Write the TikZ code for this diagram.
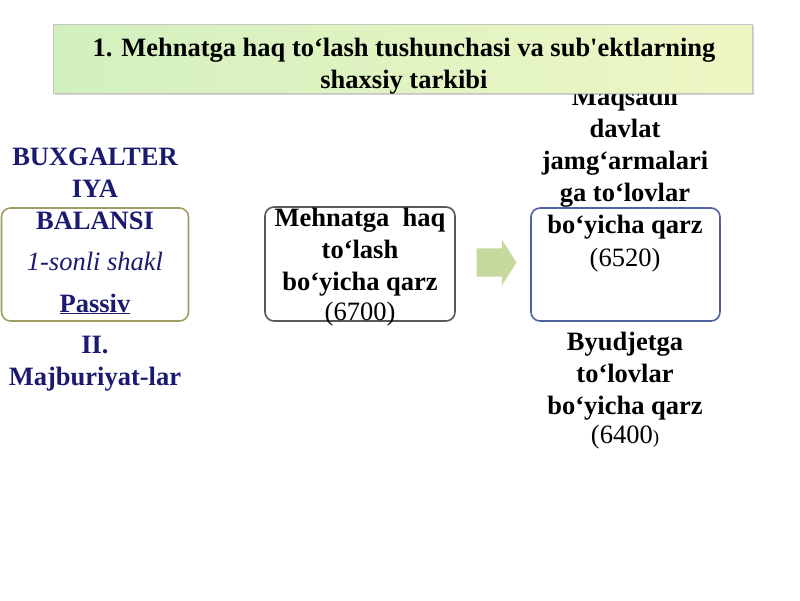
\documentclass[tikz,border=0pt]{standalone}
\usepackage{fontspec}
\setmainfont{Liberation Serif}
\usetikzlibrary{shapes.arrows,shadows}
\definecolor{navytext}{HTML}{1A1A70}
\definecolor{leftframe}{HTML}{A09C64}
\definecolor{midframe}{HTML}{58585E}
\definecolor{rightframe}{HTML}{5262A0}
\definecolor{arrowfill}{HTML}{C6D99C}
\definecolor{titleleft}{HTML}{D2F0BE}
\definecolor{titleright}{HTML}{EEF7C4}
\begin{document}
\begin{tikzpicture}[x=1pt,y=-1pt,
  boxframe/.style={draw,rounded corners=9pt,line width=1.6pt,inner sep=0pt},
  bodytext/.style={font=\fontsize{26.5}{32}\selectfont\bfseries,align=center,inner sep=0pt,anchor=base},
  plaintext/.style={font=\fontsize{26.5}{32}\selectfont,inner sep=0pt,anchor=base}]
\useasboundingbox (0,0) rectangle (800,600);
\fill[white] (0,0) rectangle (800,600);

% left side: balance sheet
\node[boxframe,draw=leftframe,minimum width=187pt,minimum height=113pt] (balbox) at (95,264.5) {};
\node[bodytext,text=navytext] (baltitle) at (95,229) {BUXGALTER\\IYA\\BALANSI};
\node[plaintext,text=navytext,font=\fontsize{26.5}{32}\selectfont\itshape] (balform) at (95,270) {1-sonli shakl};
\node[bodytext,text=navytext] (balside) at (95,312) {\underline{Passiv}};
\node[bodytext,text=navytext] (balsection) at (95,385) {II.\\Majburiyat-lar};

% middle
\node[boxframe,draw=midframe,minimum width=190pt,minimum height=114pt] (wagebox) at (360,264) {};
\node[bodytext] (wagetext) at (360,290) {Mehnatga\ \ haq\\to‘lash\\bo‘yicha qarz};
\node[plaintext] (wagecode) at (360,320) {(6700)};

\node[single arrow,fill=arrowfill,minimum height=40pt,text height=14pt,text depth=14pt,
  single arrow head extend=9pt,single arrow tip angle=115,inner sep=0pt] (flow) at (492,262.5) {};

% right side
\node[boxframe,draw=rightframe,minimum width=189pt,minimum height=113pt] (fundbox) at (625.5,264.5) {};
\node[bodytext] (fundtext) at (625,233) {Maqsadli\\davlat\\jamg‘armalari\\ga to‘lovlar\\bo‘yicha qarz};
\node[plaintext] (fundcode) at (625,266) {(6520)};
\node[bodytext] (budgettext) at (625,414) {Byudjetga\\to‘lovlar\\bo‘yicha qarz};
\node[plaintext] (budgetcode) at (625,443) {(6400{\fontsize{19}{20}\selectfont)}};

% title
\node[draw=gray!45,left color=titleleft,right color=titleright,drop shadow={opacity=0.35},
  minimum width=699pt,minimum height=69pt,inner sep=0pt] (titlebox) at (402.5,58.5) {};
\node[bodytext] (titletext) at (404,88) {1. Mehnatga haq to‘lash tushunchasi va sub\textquotesingle ektlarning\\shaxsiy tarkibi};
\end{tikzpicture}
\end{document}
